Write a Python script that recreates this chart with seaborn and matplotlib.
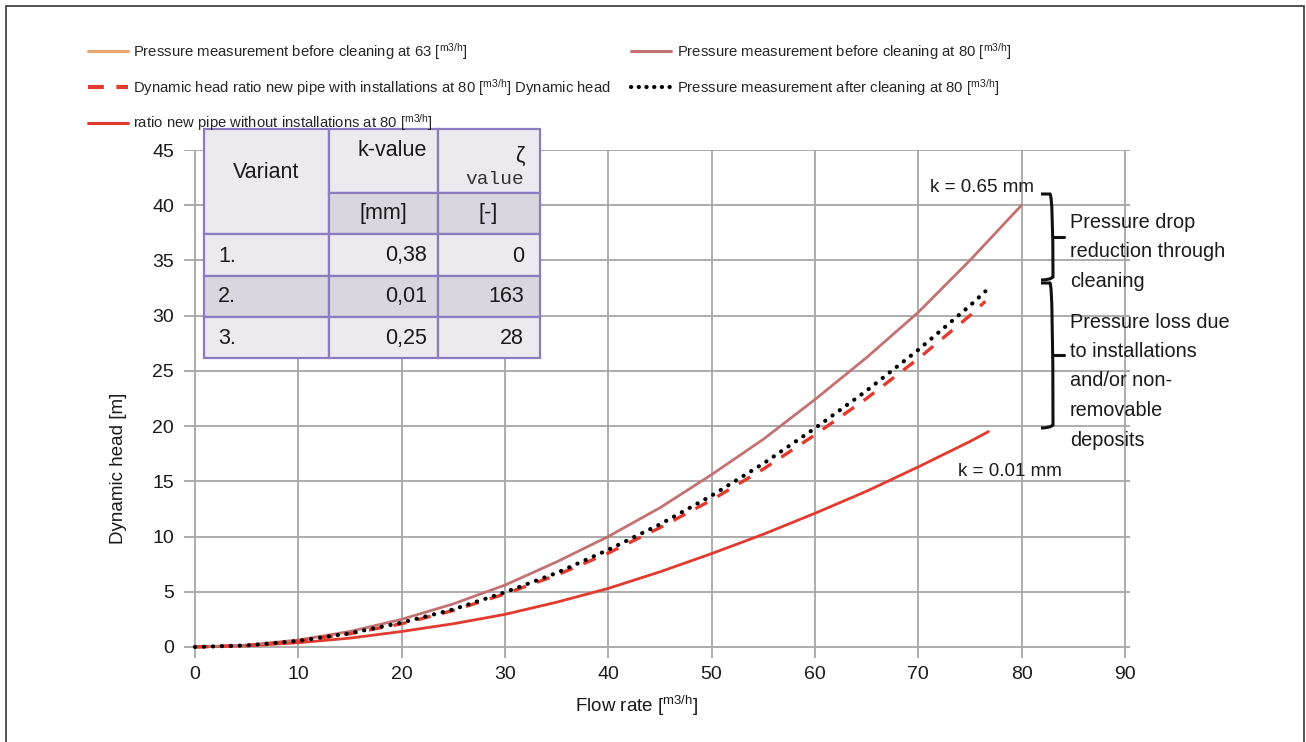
import numpy as np
import pandas as pd
import matplotlib
matplotlib.use("Agg")
import matplotlib.pyplot as plt
import seaborn as sns
from matplotlib.lines import Line2D
from matplotlib.patches import Rectangle
from matplotlib.path import Path
from matplotlib.patches import PathPatch

# ---------------- data ----------------
x_before80 = [0, 5, 10, 15, 20, 25, 30, 35, 40, 45, 50, 55, 60, 65, 70, 75, 80]
y_before80 = [0, 0.16, 0.63, 1.4, 2.5, 3.9, 5.6, 7.7, 10.0, 12.6, 15.6, 18.8, 22.4, 26.2, 30.3, 35.0, 40.0]

x_after80 = [0, 5, 10, 15, 20, 25, 30, 35, 40, 45, 50, 55, 60, 65, 70, 75, 76.5]
y_after80 = [0, 0.14, 0.55, 1.24, 2.2, 3.4, 4.95, 6.7, 8.8, 11.1, 13.7, 16.6, 19.8, 23.2, 26.9, 30.9, 32.2]

x_with_inst = [0, 5, 10, 15, 20, 25, 30, 35, 40, 45, 50, 55, 60, 65, 70, 75, 76.5]
y_with_inst = [0, 0.13, 0.53, 1.2, 2.1, 3.3, 4.8, 6.5, 8.5, 10.8, 13.3, 16.1, 19.2, 22.5, 26.1, 30.0, 31.3]

x_without_inst = [0, 5, 10, 15, 20, 25, 30, 35, 40, 45, 50, 55, 60, 65, 70, 75, 76.8]
y_without_inst = [0, 0.1, 0.38, 0.8, 1.4, 2.1, 2.95, 4.05, 5.3, 6.8, 8.45, 10.2, 12.1, 14.1, 16.3, 18.6, 19.5]

x_ticks = [0, 10, 20, 30, 40, 50, 60, 70, 80, 90]
y_ticks = [0, 5, 10, 15, 20, 25, 30, 35, 40, 45]

unit = r"[$^{\mathrm{m3/h}}$]"
label_before63 = "Pressure measurement before cleaning at 63 " + unit
label_with_inst = "Dynamic head ratio new pipe with installations at 80 " + unit + " Dynamic head"
label_without_inst = "ratio new pipe without installations at 80 " + unit
label_before80 = "Pressure measurement before cleaning at 80 " + unit
label_after80 = "Pressure measurement after cleaning at 80 " + unit

table_variants = ["1.", "2.", "3."]
table_k = ["0,38", "0,01", "0,25"]
table_zeta = ["0", "163", "28"]

# ---------------- style ----------------
sns.set_theme(style="white")
plt.rcParams["font.family"] = ["Liberation Sans", "DejaVu Sans"]
plt.rcParams["mathtext.fontset"] = "custom"
plt.rcParams["mathtext.rm"] = "Liberation Sans"
plt.rcParams["mathtext.it"] = "Liberation Sans:italic"

W, H = 1306, 742
fig = plt.figure(figsize=(W / 100, H / 100), dpi=100)
ax = fig.add_axes([183.6 / W, 1 - 658 / H, (1130 - 183.6) / W, (658 - 150) / H])

c_orange = "#E9A46E"
c_brown = "#C27272"
c_red = "#E23A2E"

df1 = pd.DataFrame({"x": x_before80, "y": y_before80})
df2 = pd.DataFrame({"x": x_after80, "y": y_after80})
df3 = pd.DataFrame({"x": x_with_inst, "y": y_with_inst})
df4 = pd.DataFrame({"x": x_without_inst, "y": y_without_inst})

sns.lineplot(data=df4, x="x", y="y", ax=ax, color=c_red, lw=2.0, zorder=3)
sns.lineplot(data=df1, x="x", y="y", ax=ax, color=c_brown, lw=2.0, zorder=3)
sns.lineplot(data=df3, x="x", y="y", ax=ax, color=c_red, lw=2.4, zorder=4,
             linestyle=(0, (4, 3.5)))
sns.lineplot(data=df2, x="x", y="y", ax=ax, color="black", lw=3.0, zorder=5,
             linestyle=(0, (0.05, 2.1)), dash_capstyle="round")

ax.set_xlim(-1.1, 90.5)
ax.set_ylim(-1.0, 45.0)
ax.set_xticks(x_ticks)
ax.set_yticks(y_ticks)
ax.grid(True, color="#A6A6A6", lw=1.3)
for s in ax.spines.values():
    s.set_visible(False)
ax.tick_params(axis="both", length=0, labelsize=14, colors="#1a1a1a")
ax.tick_params(axis="y", pad=7)
ax.tick_params(axis="x", pad=6)

ax.set_xlabel("Flow rate " + unit, fontsize=13.5, color="#1a1a1a")
ax.set_ylabel("Dynamic head [m]", fontsize=13.5, color="#1a1a1a")
ax.xaxis.set_label_coords(0.479, -0.07)
ax.yaxis.set_label_coords(-0.06, 0.374)

# ---------------- legend ----------------
h_before63 = Line2D([], [], color=c_orange, lw=2.2)
h_with = Line2D([], [], color=c_red, lw=3.0, linestyle=(0, (3.8, 3.0)))
h_without = Line2D([], [], color=c_red, lw=2.2)
h_before80 = Line2D([], [], color=c_brown, lw=2.2)
h_after = Line2D([], [], color="black", lw=3.0, linestyle=(0, (0.05, 1.8)), dash_capstyle="round")
leg = fig.legend([h_before63, h_with, h_without, h_before80, h_after],
                 [label_before63, label_with_inst, label_without_inst, label_before80, label_after80],
                 loc="upper left", bbox_to_anchor=(88 / W, 1 - 41 / H), ncol=2,
                 frameon=False, borderpad=0, borderaxespad=0,
                 prop={"size": 10.7},
                 handlelength=2.7, handletextpad=0.35, columnspacing=1.35, labelspacing=1.0)

# ---------------- helper in pixel coords ----------------
def fx(px):
    return px / W

def fy(py):
    return 1 - py / H

# ---------------- table ----------------
border = "#8D7BC0"
light = "#ECEAEF"
dark = "#D9D6DE"
cols = [204, 329, 438, 540]
rows = [129, 193, 234, 276, 317, 358]

def cell(x0, y0, x1, y1, fc):
    fig.add_artist(Rectangle((fx(x0), fy(y1)), fx(x1) - fx(x0), fy(y0) - fy(y1),
                             transform=fig.transFigure, facecolor=fc, edgecolor=border,
                             lw=1.6, zorder=5))

cell(cols[0], rows[0], cols[1], rows[2], light)
cell(cols[1], rows[0], cols[2], rows[1], light)
cell(cols[2], rows[0], cols[3], rows[1], light)
cell(cols[1], rows[1], cols[2], rows[2], dark)
cell(cols[2], rows[1], cols[3], rows[2], dark)
for i in range(3):
    fc = dark if i == 1 else light
    for j in range(3):
        cell(cols[j], rows[2 + i], cols[j + 1], rows[3 + i], fc)

tfs = 15.5
tc = "#1a1a1a"
fig.text(fx(266), fy(172), "Variant", ha="center", va="center", fontsize=tfs, color=tc, zorder=6)
fig.text(fx(427), fy(151), "k-value", ha="right", va="center", fontsize=tfs, color=tc, zorder=6)
fig.text(fx(524), fy(156), "ζ", ha="right", va="center", fontsize=tfs, color=tc, zorder=6)
fig.text(fx(524), fy(179), "value", ha="right", va="center", fontsize=14,
         family=["Liberation Mono", "DejaVu Sans Mono"], color="#333333", zorder=6)
fig.text(fx(383), fy(214), "[mm]", ha="center", va="center", fontsize=tfs, color=tc, zorder=6)
fig.text(fx(488), fy(214), "[-]", ha="center", va="center", fontsize=tfs, color=tc, zorder=6)
row_y = [256, 297, 338]
for v, k, z, yy in zip(table_variants, table_k, table_zeta, row_y):
    fig.text(fx(218), fy(yy), v, ha="left", va="center", fontsize=tfs, color=tc, zorder=6)
    fig.text(fx(427), fy(yy), k, ha="right", va="center", fontsize=tfs, color=tc, zorder=6)
    fig.text(fx(524), fy(yy), z, ha="right", va="center", fontsize=tfs, color=tc, zorder=6)

# ---------------- annotations ----------------
fig.text(fx(930), fy(187), "k = 0.65 mm", ha="left", va="center", fontsize=13.5, color=tc)
fig.text(fx(958), fy(472), "k = 0.01 mm", ha="left", va="center", fontsize=13.5, color=tc)
fig.text(fx(1070), fy(252), "Pressure drop\nreduction through\ncleaning", ha="left",
         va="center", fontsize=14.3, linespacing=1.70, color=tc)
fig.text(fx(1070), fy(381), "Pressure loss due\nto installations\nand/or non-\nremovable\ndeposits",
         ha="left", va="center", fontsize=14.3, linespacing=1.70, color=tc)

def brace(top, bottom, mid, xv=1053, xl=1041, xr=1064):
    verts = [(xl, top), (xv - 3, top), (xv, top + 3), (xv, bottom - 3), (xv - 3, bottom), (xl, bottom)]
    codes = [Path.MOVETO, Path.LINETO, Path.CURVE3, Path.LINETO, Path.CURVE3, Path.LINETO]
    verts = [(fx(a), fy(b)) for a, b in verts]
    fig.add_artist(PathPatch(Path(verts, codes), transform=fig.transFigure, fill=False,
                             edgecolor="#111111", lw=2.2, zorder=6))
    fig.add_artist(Line2D([fx(xv), fx(xr)], [fy(mid), fy(mid)], transform=fig.transFigure,
                          color="#111111", lw=2.2, zorder=6))

brace(194, 280, 237)
brace(283, 428, 355)

# figure frame
fig.add_artist(Rectangle((fx(6), -0.02), fx(1304) - fx(6), fy(6) + 0.02,
                         transform=fig.transFigure, fill=False, edgecolor="#444444", lw=1.3, zorder=10))

fig.savefig("out.png", dpi=100)
